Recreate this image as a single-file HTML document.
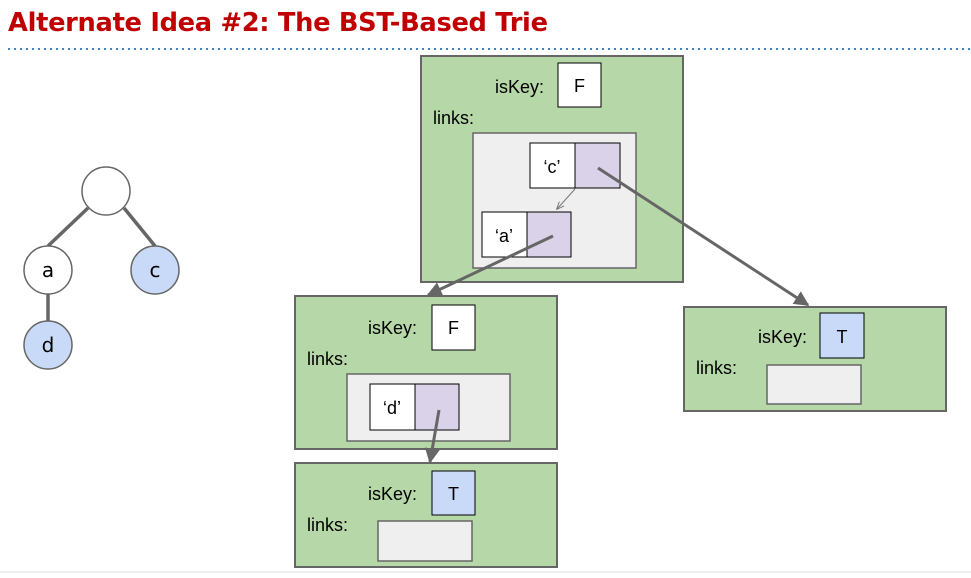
<!DOCTYPE html>
<html><head><meta charset="utf-8"><style>
html,body{margin:0;padding:0;background:#fff;width:971px;height:578px;overflow:hidden}
svg{display:block}
text{font-family:"Liberation Sans",Arial,sans-serif;fill:#000}
</style></head><body>
<svg width="971" height="578" viewBox="0 0 971 578" xmlns="http://www.w3.org/2000/svg">
<defs>
<marker id="ah" viewBox="0 0 10 10" refX="9" refY="5" markerWidth="5" markerHeight="5" orient="auto"><path d="M0,0 L10,5 L0,10 z" fill="#666"/></marker>
<marker id="ah2" viewBox="0 0 10 10" refX="9" refY="5" markerWidth="8" markerHeight="8" orient="auto"><path d="M0,1 L10,5 L0,9" fill="none" stroke="#777" stroke-width="1.2"/></marker>
</defs>
<text x="8" y="31" style="font-family:'DejaVu Sans','Liberation Sans',sans-serif;font-weight:bold;font-size:25.7px;fill:#c00000;letter-spacing:-0.3px">Alternate Idea #2: The BST-Based Trie</text>
<line x1="8" y1="49" x2="971" y2="49" stroke="#3d85c6" stroke-width="2" stroke-dasharray="2,4"/>

<g stroke="#666" stroke-width="3.5">
<line x1="88" y1="208" x2="48" y2="246"/><line x1="124" y1="208" x2="155" y2="246"/><line x1="48" y1="294" x2="48" y2="321"/>
</g>
<g stroke="#666" stroke-width="1.5">
<circle cx="106" cy="191" r="24" fill="#fff"/>
<circle cx="48" cy="270" r="24" fill="#fff"/>
<circle cx="155" cy="270" r="24" fill="#c9daf8"/>
<circle cx="48" cy="345" r="24" fill="#c9daf8"/>
</g>
<g text-anchor="middle">
<text x="48" y="277" style="font-family:'DejaVu Sans',sans-serif;font-size:20px">a</text>
<text x="155" y="277" style="font-family:'DejaVu Sans',sans-serif;font-size:20px">c</text>
<text x="48" y="352" style="font-family:'DejaVu Sans',sans-serif;font-size:20px">d</text>
</g>

<rect x="421" y="56" width="262" height="226" fill="#b6d7a8" stroke="#666" stroke-width="2"/>
<text x="495" y="93" font-size="18">isKey:</text>
<rect x="558" y="63" width="43" height="44" fill="#fff" stroke="#000" stroke-width="1"/>
<text x="579.5" y="92" font-size="18" text-anchor="middle">F</text>
<text x="433" y="124" font-size="18">links:</text>
<rect x="473" y="133" width="163" height="135" fill="#efefef" stroke="#666" stroke-width="1.5"/>
<rect x="530" y="143" width="45" height="45" fill="#fff" stroke="#000"/>
<rect x="575" y="143" width="45" height="45" fill="#d9d2e9" stroke="#000"/>
<text x="552" y="173" font-size="18" text-anchor="middle">‘c’</text>
<rect x="482" y="212" width="45" height="45" fill="#fff" stroke="#000"/>
<rect x="527" y="212" width="44" height="45" fill="#d9d2e9" stroke="#000"/>
<text x="504" y="242" font-size="18" text-anchor="middle">‘a’</text>
<line x1="575" y1="189" x2="557" y2="209" stroke="#777" stroke-width="1" marker-end="url(#ah2)"/>

<rect x="295" y="296" width="262" height="153" fill="#b6d7a8" stroke="#666" stroke-width="2"/>
<text x="368" y="334" font-size="18">isKey:</text>
<rect x="432" y="305" width="43" height="45" fill="#fff" stroke="#000"/>
<text x="453.5" y="334" font-size="18" text-anchor="middle">F</text>
<text x="307" y="365" font-size="18">links:</text>
<rect x="347" y="374" width="163" height="67" fill="#efefef" stroke="#666" stroke-width="1.5"/>
<rect x="370" y="384" width="45" height="46" fill="#fff" stroke="#000"/>
<rect x="415" y="384" width="44" height="46" fill="#d9d2e9" stroke="#000"/>
<text x="392" y="414" font-size="18" text-anchor="middle">‘d’</text>

<rect x="295" y="463" width="262" height="104" fill="#b6d7a8" stroke="#666" stroke-width="2"/>
<text x="368" y="500" font-size="18">isKey:</text>
<rect x="432" y="471" width="43" height="44" fill="#c9daf8" stroke="#000"/>
<text x="453.5" y="500" font-size="18" text-anchor="middle">T</text>
<text x="307" y="531" font-size="18">links:</text>
<rect x="378" y="521" width="94" height="40" fill="#efefef" stroke="#666" stroke-width="1.5"/>

<rect x="684" y="307" width="262" height="104" fill="#b6d7a8" stroke="#666" stroke-width="2"/>
<text x="758" y="343" font-size="18">isKey:</text>
<rect x="820" y="313" width="44" height="45" fill="#c9daf8" stroke="#000"/>
<text x="842" y="343" font-size="18" text-anchor="middle">T</text>
<text x="696" y="374" font-size="18">links:</text>
<rect x="767" y="365" width="94" height="39" fill="#efefef" stroke="#666" stroke-width="1.5"/>

<g stroke="#666" stroke-width="3" fill="none">
<line x1="598" y1="168" x2="808" y2="305" marker-end="url(#ah)"/>
<line x1="553" y1="236" x2="428" y2="295" marker-end="url(#ah)"/>
<line x1="439" y1="410" x2="430" y2="462" marker-end="url(#ah)"/>
</g>
<line x1="0" y1="572" x2="971" y2="572" stroke="#ddd" stroke-width="1"/>
</svg>
</body></html>
